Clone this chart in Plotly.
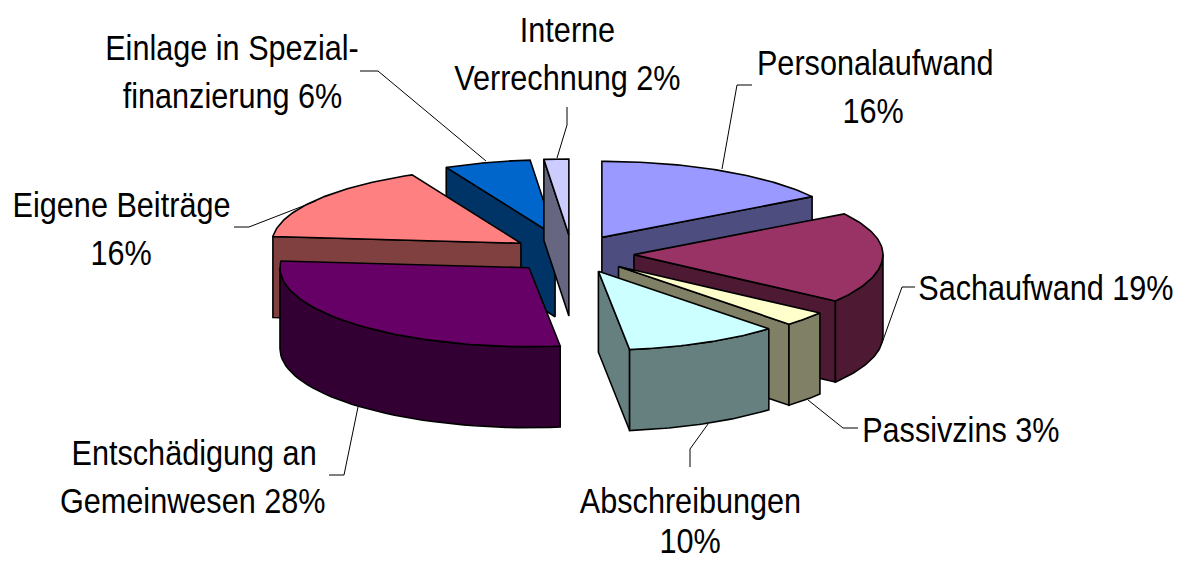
import numpy as np
import plotly.graph_objects as go

categories = ["Personalaufwand", "Sachaufwand", "Passivzins", "Abschreibungen",
              "Entschädigung an Gemeinwesen", "Eigene Beiträge",
              "Einlage in Spezialfinanzierung", "Interne Verrechnung"]
values = [16, 19, 3, 10, 28.4, 16.4, 5.6, 1.6]
top_colors = ["#9999FF", "#993366", "#FFFFCC", "#CCFFFF", "#660066", "#FF8080", "#0066CC", "#CCCCFF"]
side_colors = ["#4D4D80", "#4D1933", "#808066", "#668080", "#330033", "#804040", "#003366", "#666680"]
label_lines = [
    ["Einlage in Spezial-", "finanzierung 6%"], ["Interne", "Verrechnung 2%"],
    ["Personalaufwand", "16%"], ["Sachaufwand 19%"], ["Passivzins 3%"],
    ["Abschreibungen", "10%"], ["Entschädigung an", "Gemeinwesen 28%"],
    ["Eigene Beiträge", "16%"],
]

# layout constants (pixels on hidden axes)
W, H = 1180, 561
CX, CY, RX, RY_BACK, RY_FRONT, DEPTH, EX, EY = 572, 254, 249, 76, 79, 81, 62, 19
FONT = "Liberation Sans"
FS = 35
LABEL_POS = [[(232, 47), (232, 95)], [(567, 29), (567, 77)], [(875, 62), (873, 110)],
             [(1046, 287)], [(961, 429)], [(690, 500), (690, 540)],
             [(194, 452), (193, 500)], [(121, 204), (121, 252)]]
LEADERS = [[(752, 85), (737, 85), (722, 169)], [(915, 287), (902, 287), (882, 343)],
           [(858, 428), (843, 428), (808, 400)], [(690, 467), (690, 449), (708, 424)],
           [(329, 475), (344, 475), (358, 407)], [(234, 227), (249, 227), (316, 201)],
           [(360, 71), (378, 71), (486, 161)], [(567, 107), (567, 125), (557, 158)]]

fractions = np.array(values) / sum(values)
edges = np.concatenate([[0], np.cumsum(fractions)]) * 2 * np.pi

fig = go.Figure()


def poly(xs, ys, fill):
    fig.add_trace(go.Scatter(x=list(xs), y=list(ys), mode="lines", fill="toself", fillcolor=fill,
                             line=dict(color="black", width=1.6), hoverinfo="skip", showlegend=False))


def slice_faces(i):
    a, b = edges[i], edges[i + 1]
    mid = (a + b) / 2
    ax, ay = CX + EX * np.sin(mid), CY - EY * np.cos(mid)
    px = lambda t: ax + RX * np.sin(t)
    py = lambda t: ay - np.where(np.cos(t) < 0, RY_FRONT, RY_BACK) * np.cos(t)
    side = side_colors[i]
    # radial walls facing the viewer
    if np.sin(a) < 0:
        poly([ax, px(a), px(a), ax, ax], [ay, py(a), py(a) + DEPTH, ay + DEPTH, ay], side)
    if np.sin(b) > 0:
        poly([ax, px(b), px(b), ax, ax], [ay, py(b), py(b) + DEPTH, ay + DEPTH, ay], side)
    # outer rim, front half only
    lo, hi = max(a, np.pi / 2), min(b, 3 * np.pi / 2)
    if lo < hi:
        t = np.linspace(lo, hi, 40)
        poly(np.r_[px(t), px(t)[::-1], px(t)[0]],
             np.r_[py(t), py(t)[::-1] + DEPTH, py(t)[0]], side)
    # top face
    t = np.linspace(a, b, 60)
    poly(np.r_[ax, px(t), ax], np.r_[ay, py(t), ay], top_colors[i])


# back-to-front painting order
for i in [6, 7, 5, 0, 4, 1, 2, 3]:
    slice_faces(i)

annotations = []
for lines, positions in zip(label_lines, LABEL_POS):
    for line, (x, y) in zip(lines, positions):
        annotations.append(dict(x=x, y=y, text=line, showarrow=False, xanchor="center", yanchor="middle",
                                font=dict(family=FONT, size=FS, color="black")))

for pts in LEADERS:
    xs, ys = zip(*pts)
    fig.add_trace(go.Scatter(x=xs, y=ys, mode="lines", line=dict(color="black", width=1),
                             hoverinfo="skip", showlegend=False))

fig.update_layout(
    width=W, height=H, margin=dict(l=0, r=0, t=0, b=0), paper_bgcolor="white", plot_bgcolor="white",
    xaxis=dict(range=[0, W], visible=False, fixedrange=True),
    yaxis=dict(range=[H, 0], visible=False, fixedrange=True),
    annotations=annotations, showlegend=False,
)
# The reference lettering is condensed; squeeze the real text horizontally about its own centre.
post = """
document.body.style.margin='0';
document.documentElement.style.overflow='hidden';
document.querySelectorAll('.annotation-text').forEach(function(t){
  t.style.transformBox='fill-box';
  t.style.transformOrigin='center';
  t.style.transform='scaleX(0.875)';
});
"""
fig.write_html("out.html", config={"displayModeBar": False}, post_script=post)
